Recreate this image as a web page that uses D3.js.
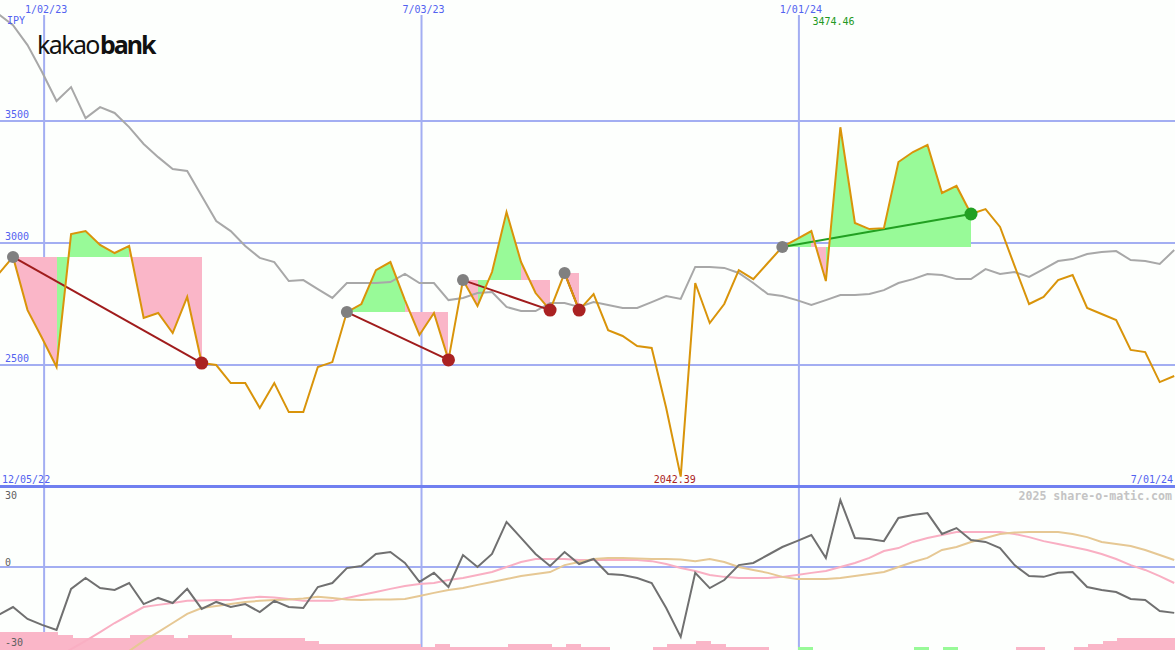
<!DOCTYPE html>
<html><head><meta charset="utf-8">
<script src="https://cdn.jsdelivr.net/npm/d3@7"></script>
<style>body{margin:0;background:#fdfffd;} svg{display:block;background:#fdfffd}</style>
</head><body><svg id="c" width="1175" height="650"></svg>
<script>
// ---- data (weekly) ----
const startDate = "2022-12-11";
const close = [2873,2943,2725,2611,2492,3037,3049,2992,2959,2988,
  2693,2713,2631,2779,2508,2500,2426,2426,2324,2426,
  2307,2307,2492,2512,2717,2750,2889,2922,2766,2623,
  2713,2521,2848,2742,2881,3127,2922,2795,2725,2877,
  2725,2791,2643,2619,2578,2570,2324,2042.39,2836,2672,
  2750,2889,2852,2918,2984,3016,3049,2844,3474.46,3082,
  3057,3061,3332,3373,3402,3205,3234,3119,3139,3066,
  2906,2750,2779,2848,2869,2734,2709,2684,2562,2553,
  2430,2455];
const average = [3938,3893,3811,3701,3582,3639,3512,3557,3533,3475,
  3406,3352,3303,3295,3193,3090,3049,2988,2939,2922,
  2844,2848,2811,2775,2836,2836,2836,2840,2873,2836,
  2836,2766,2775,2795,2799,2738,2721,2721,2754,2754,
  2738,2758,2746,2734,2734,2758,2783,2771,2902,2902,
  2898,2877,2836,2791,2783,2766,2746,2766,2787,2787,
  2791,2807,2836,2852,2873,2869,2852,2852,2893,2873,
  2881,2861,2893,2926,2934,2955,2963,2967,2930,2926,
  2914,2971];
const momentum = [-18.0,-15.0,-19.5,-21.7,-23.6,-8.2,-4.1,-7.9,-8.6,-6.0,
  -13.9,-11.6,-13.5,-8.2,-15.7,-13.1,-15.0,-13.9,-16.9,-12.7,
  -15.0,-15.4,-7.5,-6.0,-0.4,0.4,4.9,5.6,1.5,-5.6,
  -2.2,-7.5,4.5,0,4.9,16.9,10.9,4.9,0.4,5.6,
  1.1,3.0,-2.6,-3.0,-4.1,-6.0,-15.4,-26.2,-2.2,-7.9,
  -4.9,0.7,1.5,4.5,7.5,9.7,12.0,3.4,25.1,10.9,
  10.5,9.7,18.4,19.5,20.2,12.4,14.6,10.1,9.4,7.1,
  0.7,-3.4,-3.7,-2.2,-1.9,-7.5,-8.6,-9.4,-12.0,-12.4,
  -16.5,-17.2];
const signalFast = [-48,-44.6,-41,-37.6,-34.1,-30.8,-27.7,-24.4,-21,-18,
  -15,-14.2,-13.5,-12.7,-12.6,-12.4,-12.4,-11.6,-11.2,-11.4,
  -12,-12.7,-12.7,-12.7,-11.6,-10.5,-9.4,-8.2,-7.1,-6.4,
  -6.0,-4.9,-4.1,-3.0,-1.9,0,1.9,3.0,3.0,3.0,
  2.6,2.6,2.6,2.6,2.6,2.2,1.1,-0.4,-1.5,-3.0,
  -3.7,-4.1,-4.1,-4.1,-3.7,-3.0,-2.2,-1.5,0,1.5,
  3.4,6.0,7.1,9.4,10.9,12.0,13.1,13.1,13.1,13.1,
  12.4,11.2,9.7,8.6,7.5,6.4,4.9,3.0,0.7,-1.1,
  -3.4,-6.0];
const signalSlow = [-62,-58.5,-55,-51.7,-48.4,-45,-41.6,-38.2,-34.9,-31.5,
  -27.7,-24.4,-21,-17.6,-15.4,-14.6,-13.9,-13.1,-12.7,-12.4,
  -12.2,-11.8,-11.2,-11.6,-12.2,-12.4,-12.2,-12.2,-12,-10.9,
  -9.7,-8.6,-7.9,-6.7,-5.6,-4.5,-3.4,-2.6,-1.9,0.7,
  1.9,3.0,3.4,3.4,3.2,3.0,3.0,2.8,2.2,3.0,
  1.9,0,-1.1,-2.2,-3.7,-4.5,-4.5,-4.5,-4.1,-3.4,
  -2.6,-1.9,0,1.9,3.4,6.4,7.5,9.4,10.9,12.4,
  12.9,13.1,13.1,13.1,12.4,11.2,9.4,8.6,7.9,6.4,
  4.5,2.6];
const histogram = [-6,-6,-6,-6,-5,-4,-4,-4,-4,-5,
  -5,-5,-4,-5,-5,-5,-4,-4,-4,-4,
  -4,-3,-2,-2,-2,-2,-2,-2,-2,-1,
  -2,-1,-1,-1,-1,-2,-2,-2,-1,-2,
  -1,-1,0,0,0,-1,-2,-2,-3,-2,
  -1,-1,-1,0,0,1,0,0,0,0,
  0,0,0,1,0,1,0,0,0,0,
  -1,-1,0,0,-1,-2,-3,-4,-4,-4,
  -4,-4];
const entryIdx = [1, 24, 32, 39, 54];
const exitIdx  = [14, 31, 38, 40, 67];
const priceTicks = [2500, 3000, 3500];
const dateTicks = ["2023-01-02", "2023-07-03", "2024-01-01"];
const dateTickLabels = ["1/02/23", "7/03/23", "1/01/24"];
const oscTicks = [30, 0, -30];
const firstLabel = "12/05/22", lastLabel = "7/01/24";

// ---- setup ----
const W = 1175, H = 650, topH = 487;
const parse = d3.timeParse("%Y-%m-%d");
const start = parse(startDate);
const dates = close.map((_, i) => d3.timeDay.offset(start, 7 * i));
const x = d3.scaleTime().domain([parse("2022-12-11"), parse("2024-07-01")]).range([-1.5, 1176.3]);
const y = d3.scaleLinear().domain([2000, 3996]).range([topH, 0]);
const yo = d3.scaleLinear().domain([-30, 30]).range([647, topH]);
const yh = d3.scaleLinear().domain([0, 6]).range([H, 632]);

const svg = d3.select("#c");
const mono = "DejaVu Sans Mono";
const gridC = "#a3aef2", labelC = "#5262f0";
const pink = "#fab6c8", green = "#98fa98";

const defs = svg.append("defs");
defs.append("clipPath").attr("id", "ct").append("rect").attr("x", 0).attr("y", 0).attr("width", W).attr("height", topH);
defs.append("clipPath").attr("id", "cb").append("rect").attr("x", 0).attr("y", topH).attr("width", W).attr("height", H - topH);

// vertical gridlines
svg.selectAll("line.v").data(dateTicks).join("line")
  .attr("x1", d => x(parse(d))).attr("x2", d => x(parse(d)))
  .attr("y1", 15).attr("y2", H).attr("stroke", gridC).attr("stroke-width", 2);
// price gridlines
svg.selectAll("line.h").data(priceTicks).join("line")
  .attr("x1", 0).attr("x2", W).attr("y1", d => y(d)).attr("y2", d => y(d))
  .attr("stroke", gridC).attr("stroke-width", 2);
// osc zero line
svg.append("line").attr("x1", 0).attr("x2", W).attr("y1", yo(0)).attr("y2", yo(0))
  .attr("stroke", gridC).attr("stroke-width", 2);

// ---- top panel ----
const gTop = svg.append("g").attr("clip-path", "url(#ct)");
entryIdx.forEach((e, t) => {
  const base = close[e];
  for (let i = e; i < exitIdx[t]; i++) {
    const seg = [i, i + 1];
    const area = d3.area().x(k => x(dates[k])).y0(y(base)).y1(k => y(close[k]));
    gTop.append("path").attr("d", area(seg))
      .attr("fill", close[i + 1] >= base ? green : pink)
      .attr("shape-rendering", "crispEdges");
  }
});
const line = (arr, sc) => d3.line().x((d, i) => x(dates[i])).y(d => sc(d))(arr);
gTop.append("path").attr("d", line(average, y)).attr("fill", "none").attr("stroke", "#a8a8a8").attr("stroke-width", 2);
entryIdx.forEach((e, t) => {
  const xi = exitIdx[t];
  const win = close[xi] > close[e];
  gTop.append("line").attr("x1", x(dates[e])).attr("y1", y(close[e]))
    .attr("x2", x(dates[xi])).attr("y2", y(close[xi]))
    .attr("stroke", win ? "#22a022" : "#a01c1c").attr("stroke-width", 2);
});
gTop.append("path").attr("d", line(close, y)).attr("fill", "none").attr("stroke", "#d9940a").attr("stroke-width", 2);
entryIdx.forEach((e, t) => {
  const xi = exitIdx[t];
  const win = close[xi] > close[e];
  gTop.append("circle").attr("cx", x(dates[e])).attr("cy", y(close[e])).attr("r", 6).attr("fill", "#808080");
  gTop.append("circle").attr("cx", x(dates[xi])).attr("cy", y(close[xi])).attr("r", 6.5).attr("fill", win ? "#22a022" : "#aa2222");
});

// divider
svg.append("line").attr("x1", 0).attr("x2", W).attr("y1", 486.5).attr("y2", 486.5)
  .attr("stroke", "#7080f0").attr("stroke-width", 3);

// ---- bottom panel ----
const gBot = svg.append("g").attr("clip-path", "url(#cb)");
const step = x(dates[1]) - x(dates[0]);
gBot.selectAll("rect.h").data(histogram.map((v, i) => ({v, i})).filter(d => d.v !== 0)).join("rect")
  .attr("x", d => x(dates[d.i]) + 1).attr("width", step + 0.5)
  .attr("y", d => yh(Math.abs(d.v))).attr("height", d => H - yh(Math.abs(d.v)))
  .attr("fill", d => d.v < 0 ? pink : green).attr("shape-rendering", "crispEdges");
gBot.append("path").attr("d", line(signalFast, yo)).attr("fill", "none").attr("stroke", "#f9afc3").attr("stroke-width", 2);
gBot.append("path").attr("d", line(signalSlow, yo)).attr("fill", "none").attr("stroke", "#e6c894").attr("stroke-width", 2);
gBot.append("path").attr("d", line(momentum, yo)).attr("fill", "none").attr("stroke", "#707070").attr("stroke-width", 2);

// ---- texts ----
const txt = (s, xx, yy, color, anchor = "start", extra = {}) => {
  const t = svg.append("text").attr("x", xx).attr("y", yy).text(s)
    .attr("fill", color).attr("font-family", mono).attr("font-size", 10).attr("text-anchor", anchor);
  Object.entries(extra).forEach(([k, v]) => t.attr(k, v));
  return t;
};
dateTicks.forEach((d, i) => txt(dateTickLabels[i], x(parse(d)) + 2, 13, labelC, "middle"));
txt("IPY", 7, 24, labelC);
priceTicks.forEach(p => txt(String(p), 5, y(p) - 3, labelC));
txt(firstLabel, 2, 483, labelC);
txt(lastLabel, 1173, 483, labelC, "end");
const iMax = close.indexOf(d3.max(close)), iMin = close.indexOf(d3.min(close));
txt(d3.format(".2f")(close[iMax]), x(dates[iMax]) - 28, 25, "#229922");
txt(d3.format(".2f")(close[iMin]), x(dates[iMin]) - 27, 483, "#aa2222");
txt("2025 share-o-matic.com", 1172, 500, "#c4c4c4", "end", {"font-size": 11.6, "font-weight": "bold"});
oscTicks.forEach(v => txt(String(v), 5, v === 30 ? 499 : yo(v) - 1, "#606060"));

// logo
svg.append("text").attr("x", 37).attr("y", 54).text("kakao")
  .attr("font-family", "Noto Sans").attr("font-size", 25).attr("fill", "#111")
  .attr("letter-spacing", -1.6);
svg.append("text").attr("x", 100).attr("y", 54).text("bank")
  .attr("font-family", "Noto Sans").attr("font-size", 25).attr("font-weight", "bold").attr("fill", "#111")
  .attr("letter-spacing", -2);
</script>
</body></html>
